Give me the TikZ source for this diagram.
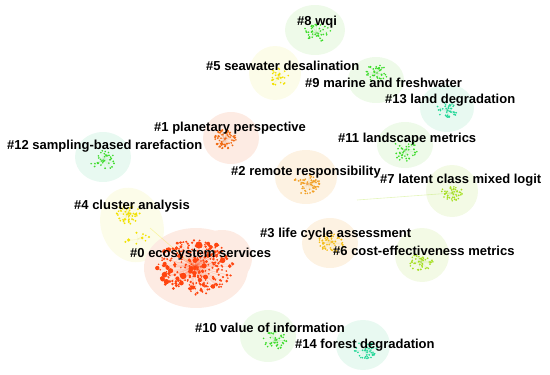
\documentclass[tikz,border=0pt]{standalone}
\usepackage{fontspec}
\setmainfont{Liberation Sans}
\usetikzlibrary{positioning}

\definecolor{blobgreen}{HTML}{EEFAE9}
\definecolor{blobteal}{HTML}{E8F9F1}
\definecolor{blobyellow}{HTML}{FCFCE9}
\definecolor{blobsalmon}{HTML}{FDEBE3}
\definecolor{blobpeach}{HTML}{FDF2E2}
\definecolor{bloblime}{HTML}{F3FAE5}
\definecolor{dotred}{HTML}{FF4510}
\definecolor{dotorange}{HTML}{F06A12}
\definecolor{dotamber}{HTML}{F2A025}
\definecolor{dotgold}{HTML}{F4BE18}
\definecolor{dotyellow}{HTML}{F2E200}
\definecolor{dotlime}{HTML}{A6E020}
\definecolor{dotgreen}{HTML}{3CDC2A}
\definecolor{dotteal}{HTML}{22D898}

% scattered members of one cluster: centre, spread x, spread y, count, colour, extra size
\newcommand{\dotcloud}[6]{%
  \foreach \k in {1,...,#4}{
    \pgfmathsetmacro{\ang}{360*rnd}
    \pgfmathsetmacro{\rad}{sqrt(rnd)}
    \pgfmathsetmacro{\sz}{0.9+#6*rnd*rnd*rnd}
    \draw[spoke, #5] (#1) -- ++({#2*\rad*cos(\ang)},{#3*\rad*sin(\ang)});
    \fill[#5] (#1) ++({#2*\rad*cos(\ang)},{#3*\rad*sin(\ang)}) circle (\sz pt);
  }}

\begin{document}
\begin{tikzpicture}[
    x=1pt, y=-1pt,
    clusterlabel/.style={anchor=west, inner sep=0pt, text=black, font=\fontsize{13}{15}\selectfont\bfseries},
    spoke/.style={very thin, opacity=0.15},
    faintlink/.style={line width=0.6pt, opacity=0.3}
]
\useasboundingbox (0,0) rectangle (550,375);
\pgfmathsetseed{42}

% Cluster centres
\coordinate (c0) at (195,267);
\coordinate (c1) at (225,139);
\coordinate (c2) at (307,184);
\coordinate (c3) at (332,242);
\coordinate (c4) at (128,214);
\coordinate (c4b) at (138,239);
\coordinate (c5) at (279,77);
\coordinate (c6) at (421,262);
\coordinate (c7) at (452,193);
\coordinate (c8) at (317,33);
\coordinate (c9) at (377,73);
\coordinate (c10) at (275,340);
\coordinate (c11) at (405,150);
\coordinate (c12) at (103,160);
\coordinate (c13) at (447,110);
\coordinate (c14) at (365,350);
\coordinate (tail7) at (357,200);
\coordinate (tail4) at (150,228);

% Cluster areas
\fill[blobgreen] (315,30) ellipse [x radius=30pt, y radius=25pt];
\fill[blobyellow] (275,73) ellipse [x radius=26pt, y radius=27pt];
\fill[blobgreen] (376,80) ellipse [x radius=28pt, y radius=23pt];
\fill[blobteal] (447,108) ellipse [x radius=27pt, y radius=24pt];
\fill[blobgreen] (405,145) ellipse [x radius=28pt, y radius=23pt];
\fill[bloblime] (452,191) ellipse [x radius=26pt, y radius=26pt];
\fill[blobsalmon] (231,138) ellipse [x radius=28pt, y radius=26pt];
\fill[blobteal] (103,157) ellipse [x radius=28pt, y radius=25pt];
\fill[blobpeach] (306,177) ellipse [x radius=31pt, y radius=27pt];
\fill[blobyellow] (132,225) ellipse [x radius=31pt, y radius=38pt, rotate=20];
\fill[blobsalmon] (196,268) ellipse [x radius=52pt, y radius=40pt];
\fill[blobsalmon] (222,258) ellipse [x radius=30pt, y radius=28pt];
\fill[blobpeach] (330,243) ellipse [x radius=28pt, y radius=25pt];
\fill[bloblime] (422,255) ellipse [x radius=27pt, y radius=27pt];
\fill[blobgreen] (268,336) ellipse [x radius=28pt, y radius=26pt];
\fill[blobteal] (363,345) ellipse [x radius=27pt, y radius=25pt];

% Faint links between clusters
\draw[faintlink, dotlime] (tail7) -- (c7);
\draw[faintlink, dotyellow] (tail4) -- (c0);

% Cluster members
\dotcloud{c0}{38}{28}{300}{dotred}{3.0}
\dotcloud{c1}{11}{10}{70}{dotorange}{0.6}
\dotcloud{c2}{14}{10}{60}{dotamber}{0.3}
\dotcloud{c3}{14}{10}{60}{dotgold}{0.4}
\dotcloud{c4}{12}{10}{55}{dotyellow}{0.4}
\dotcloud{c4b}{14}{7}{9}{dotyellow}{1.4}
\dotcloud{c5}{10}{9}{30}{dotyellow}{0.2}
\dotcloud{c6}{12}{9}{45}{dotlime}{0.2}
\dotcloud{c7}{11}{8}{45}{dotlime}{0.2}
\dotcloud{c8}{14}{9}{40}{dotgreen}{0.2}
\dotcloud{c9}{12}{9}{40}{dotgreen}{0.2}
\dotcloud{c10}{12}{9}{40}{dotgreen}{0.2}
\dotcloud{c11}{12}{11}{40}{dotgreen}{0.2}
\dotcloud{c12}{13}{10}{35}{dotgreen}{0.2}
\dotcloud{c13}{11}{8}{40}{dotteal}{0.2}
\dotcloud{c14}{12}{9}{40}{dotteal}{0.2}

% Cluster labels
\node[clusterlabel] (l8) at (297,22) {\#8 wqi};
\node[clusterlabel] (l5) at (206,66) {\#5 seawater desalination};
\node[clusterlabel] (l9) at (305,83) {\#9 marine and freshwater};
\node[clusterlabel] (l13) at (385,100) {\#13 land degradation};
\node[clusterlabel] (l1) at (154,128) {\#1 planetary perspective};
\node[clusterlabel] (l11) at (338,139) {\#11 landscape metrics};
\node[clusterlabel] (l12) at (7,146) {\#12 sampling-based rarefaction};
\node[clusterlabel] (l2) at (231,172) {\#2 remote responsibility};
\node[clusterlabel] (l7) at (380,180) {\#7 latent class mixed logit};
\node[clusterlabel] (l4) at (74,206) {\#4 cluster analysis};
\node[clusterlabel] (l3) at (260,234) {\#3 life cycle assessment};
\node[clusterlabel] (l6) at (333,251) {\#6 cost-effectiveness metrics};
\node[clusterlabel] (l0) at (130,254) {\#0 ecosystem services};
\node[clusterlabel] (l10) at (195,328) {\#10 value of information};
\node[clusterlabel] (l14) at (295,345) {\#14 forest degradation};

\end{tikzpicture}
\end{document}
